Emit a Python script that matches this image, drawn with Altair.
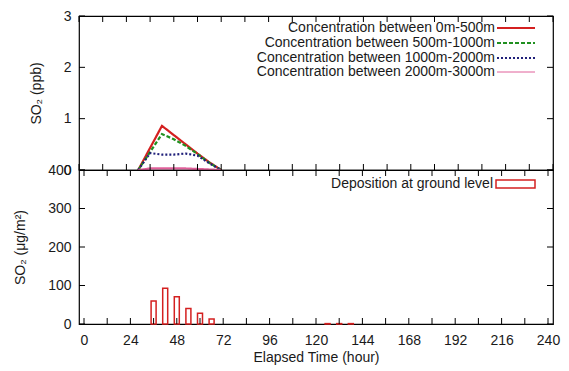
import altair as alt
import pandas as pd

# ---- data ----
series_labels = [
    "Concentration between 0m-500m",
    "Concentration between 500m-1000m",
    "Concentration between 1000m-2000m",
    "Concentration between 2000m-3000m",
]
hours_conc = [30, 36, 42, 48, 54, 60, 66, 72]
conc_0_500 = [0.0, 0.43, 0.86, 0.68, 0.50, 0.32, 0.15, 0.0]
conc_500_1000 = [0.0, 0.35, 0.70, 0.60, 0.47, 0.31, 0.14, 0.0]
conc_1000_2000 = [0.0, 0.33, 0.30, 0.30, 0.32, 0.28, 0.13, 0.0]
conc_2000_3000 = [0.0, 0.03, 0.03, 0.03, 0.03, 0.02, 0.01, 0.0]

dep_label = "Deposition at ground level"
hours_dep = [36, 42, 48, 54, 60, 66, 126, 132, 138]
deposition = [60, 93, 71, 40, 28, 13, 1, 1, 1]

x_ticks = list(range(0, 241, 12))
x_labels = list(range(0, 241, 24))
y_ticks_conc = [0, 1, 2, 3]
y_ticks_dep = [0, 100, 200, 300, 400]

# ---- styling ----
W, H = 474, 154
FONT = "Liberation Sans"
TXT = "#1a1a1a"
colors = ["#d42020", "#209020", "#20207a", "#e0609a"]
dashes = [[1, 0], [4, 2], [2, 2], [1, 0]]
widths = [2.2, 2.2, 2.2, 1.0]
TL = 6  # tick length

rows = []
for lab, vals in zip(series_labels, [conc_0_500, conc_500_1000, conc_1000_2000, conc_2000_3000]):
    for h, v in zip(hours_conc, vals):
        rows.append({"hour": h, "value": v, "series": lab})
conc_df = pd.DataFrame(rows)
dep_df = pd.DataFrame({"hour": hours_dep, "value": deposition})

xscale = alt.Scale(domain=[0, 240], nice=False, zero=False)

ax_common = dict(ticks=False, tickSize=0, domain=False, grid=False, labelOverlap=False)
y_axis_conc = alt.Axis(values=y_ticks_conc, title="SO₂ (ppb)", labelPadding=8, titlePadding=20, **ax_common)
y_axis_dep = alt.Axis(values=y_ticks_dep, title="SO₂ (μg/m²)", labelPadding=8, titlePadding=20, **ax_common)
x_axis_dep = alt.Axis(values=x_labels, title="Elapsed Time (hour)", labelPadding=9, titlePadding=3,
                      labelFlush=False, labelAlign="center", **ax_common)


def tick_layers(yvals, ydomain, x_axis, y_axis):
    yscale = alt.Scale(domain=ydomain, nice=False)
    xt = pd.DataFrame({"t": x_ticks})
    yt = pd.DataFrame({"t": yvals})
    base_x = alt.Chart(xt).mark_rule(color="black", strokeWidth=1)
    base_y = alt.Chart(yt).mark_rule(color="black", strokeWidth=1)
    return [
        base_x.encode(x=alt.X("t:Q", scale=xscale, axis=x_axis), y=alt.value(H), y2=alt.value(H - TL)),
        base_x.encode(x=alt.X("t:Q", scale=xscale, axis=x_axis), y=alt.value(0), y2=alt.value(TL)),
        base_y.encode(y=alt.Y("t:Q", scale=yscale, axis=y_axis), x=alt.value(0), x2=alt.value(TL)),
        base_y.encode(y=alt.Y("t:Q", scale=yscale, axis=y_axis), x=alt.value(W), x2=alt.value(W - TL)),
    ]


# ---- upper panel ----
lines = alt.Chart(conc_df).mark_line().encode(
    x=alt.X("hour:Q", scale=xscale, axis=None),
    y=alt.Y("value:Q", scale=alt.Scale(domain=[0, 3], nice=False), axis=y_axis_conc),
    color=alt.Color("series:N", scale=alt.Scale(domain=series_labels, range=colors), legend=None),
    strokeDash=alt.StrokeDash("series:N", scale=alt.Scale(domain=series_labels, range=dashes), legend=None),
    strokeWidth=alt.StrokeWidth("series:N", scale=alt.Scale(domain=series_labels, range=widths), legend=None),
    order=alt.Order("hour:Q"),
)

legend_layers = []
ys = [12, 27, 42, 56]
for lab, c, d, w, yy in zip(series_labels, colors, dashes, widths, ys):
    ldf = pd.DataFrame({"label": [lab]})
    legend_layers.append(
        alt.Chart(ldf).mark_text(align="right", baseline="middle", font=FONT, fontSize=14, color=TXT)
        .encode(text="label:N", x=alt.value(416), y=alt.value(yy))
    )
    legend_layers.append(
        alt.Chart(ldf).mark_rule(color=c, strokeDash=d, strokeWidth=w)
        .encode(x=alt.value(418), x2=alt.value(456), y=alt.value(yy))
    )

upper = alt.layer(lines, *tick_layers(y_ticks_conc, [0, 3], None, y_axis_conc),
                  *legend_layers).properties(width=W, height=H)

# ---- lower panel ----
bars = alt.Chart(dep_df).mark_bar(size=5, fill="white", stroke="#d42020", strokeWidth=1.5).encode(
    x=alt.X("hour:Q", scale=xscale, axis=x_axis_dep),
    y=alt.Y("value:Q", scale=alt.Scale(domain=[0, 400], nice=False), axis=y_axis_dep),
)
ddf = pd.DataFrame({"label": [dep_label]})
dep_legend = [
    alt.Chart(ddf).mark_text(align="right", baseline="middle", font=FONT, fontSize=14, color=TXT)
    .encode(text="label:N", x=alt.value(414), y=alt.value(14)),
    alt.Chart(ddf).mark_rect(fill="white", stroke="#d42020", strokeWidth=1.5)
    .encode(x=alt.value(417), x2=alt.value(456), y=alt.value(10), y2=alt.value(18)),
]
lower = alt.layer(bars, *tick_layers(y_ticks_dep, [0, 400], x_axis_dep, y_axis_dep),
                  *dep_legend).properties(width=W, height=H)

chart = (
    alt.vconcat(upper, lower, spacing=0, bounds="flush")
    .properties(padding={"left": 5, "top": 0, "right": 0, "bottom": 0})
    .configure_view(stroke="black", strokeWidth=1.2)
    .configure_axis(labelFont=FONT, titleFont=FONT, labelFontSize=14, titleFontSize=14,
                    labelColor=TXT, titleColor=TXT, titleFontWeight="normal")
    .configure_concat(spacing=0)
)

chart.save("out.html", embed_options={"renderer": "svg", "actions": False})
